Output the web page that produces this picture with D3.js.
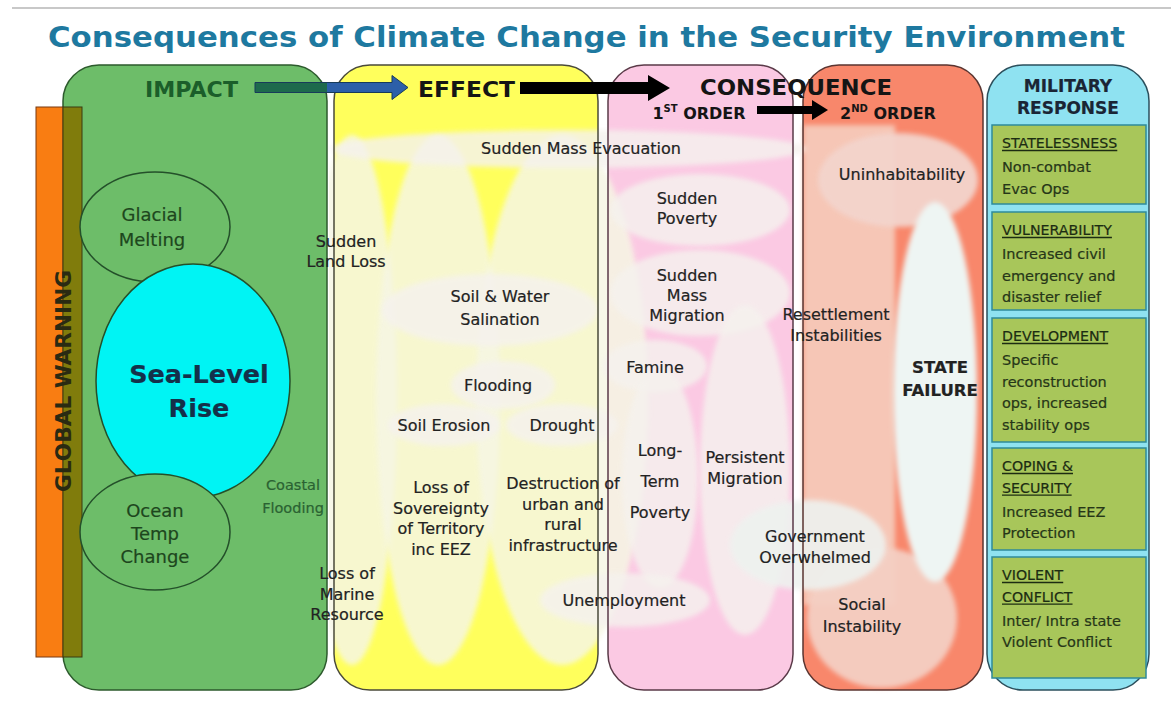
<!DOCTYPE html>
<html>
<head>
<meta charset="utf-8">
<script src="https://cdn.jsdelivr.net/npm/d3@7"></script>
<style>
  body { margin: 0; background: #fff; }
  svg { display: block; font-family: "DejaVu Sans", "Noto Sans", sans-serif; }
  .lbl { paint-order: stroke; stroke-width: 0.2px; }
</style>
</head>
<body>
<div id="chart"></div>
<script>
// ---- Data (text content of the diagram) ----
var title = "Consequences of Climate Change in the Security Environment";
var sideLabel = "GLOBAL WARNING";
var stageHeaders = ["IMPACT", "EFFECT", "CONSEQUENCE"];
var orderHeaders = [["1", "ST", " ORDER"], ["2", "ND", " ORDER"]];
var responseHeader = ["MILITARY", "RESPONSE"];
var impactLabels = [["Glacial", "Melting"], ["Sea-Level", "Rise"], ["Ocean", "Temp", "Change"]];
var effectLabels = [
    ["Sudden Mass Evacuation"], ["Sudden", "Land Loss"], ["Soil & Water", "Salination"],
    ["Flooding"], ["Soil  Erosion"], ["Drought"], ["Coastal", "Flooding"],
    ["Loss of", "Sovereignty", "of Territory", "inc EEZ"],
    ["Destruction of", "urban and", "rural", "infrastructure"],
    ["Loss of", "Marine", "Resource"]
];
var firstOrderLabels = [
    ["Sudden", "Poverty"], ["Sudden", "Mass", "Migration"], ["Famine"],
    ["Long-", "Term", "Poverty"], ["Persistent", "Migration"], ["Unemployment"]
];
var secondOrderLabels = [
    ["Uninhabitability"], ["Resettlement", "Instabilities"], ["Government", "Overwhelmed"],
    ["STATE", "FAILURE"], ["Social", "Instability"]
];
var responseHeads = [["STATELESSNESS"], ["VULNERABILITY"], ["DEVELOPMENT"], ["COPING &", "SECURITY"], ["VIOLENT", "CONFLICT"]];
var responseBodies = [
    ["Non-combat", "Evac Ops"],
    ["Increased civil", "emergency and", "disaster relief"],
    ["Specific", "reconstruction", "ops, increased", "stability ops"],
    ["Increased EEZ", "Protection"],
    ["Inter/ Intra state", "Violent Conflict"]
];

// ---- Layout (geometry, kept apart from the data) ----
var width = 1171, height = 704;
var panelTop = 65, panelBottom = 690;
var panels = [
    { x0: 63, x1: 327, fill: "#6dbd69", stroke: "#2c5a2c" },
    { x0: 334, x1: 598, fill: "#ffff5c", stroke: "#4a4a3a" },
    { x0: 608, x1: 793, fill: "#fbc9e3", stroke: "#5a3a48" },
    { x0: 803, x1: 983, fill: "#f8876b", stroke: "#5a3430" },
    { x0: 987, x1: 1149, fill: "#8fe2f1", stroke: "#2b4f5c" }
];
var effectBlobs = [
    { cx: 352, cy: 400, rx: 45, ry: 265 },
    { cx: 438, cy: 400, rx: 62, ry: 265 },
    { cx: 562, cy: 400, rx: 86, ry: 265 }
];
var paleBlobs = [
    { cx: 568, cy: 149, rx: 238, ry: 19 },   // evacuation band
    { cx: 490, cy: 310, rx: 108, ry: 36 },   // salination
    { cx: 503, cy: 385, rx: 52, ry: 24 },    // flooding
    { cx: 444, cy: 425, rx: 56, ry: 21 },    // soil erosion
    { cx: 562, cy: 425, rx: 56, ry: 21 },    // drought
    { cx: 700, cy: 210, rx: 90, ry: 36 },    // sudden poverty
    { cx: 700, cy: 293, rx: 90, ry: 43 },    // mass migration
    { cx: 655, cy: 366, rx: 52, ry: 26 },    // famine
    { cx: 660, cy: 478, rx: 38, ry: 110 },   // long-term poverty
    { cx: 745, cy: 470, rx: 45, ry: 165 },   // persistent migration
    { cx: 625, cy: 600, rx: 85, ry: 27 }     // unemployment
];
var impactShapes = [
    { cx: 155, cy: 227, rx: 75, ry: 55, fill: "#6dbd69" },
    { cx: 193, cy: 381, rx: 97, ry: 117, fill: "#00f4f4" },
    { cx: 155, cy: 532, rx: 75, ry: 58, fill: "#6dbd69" }
];
var impactPos = [
    { x: 152, y: 221, step: 25, size: 18, color: "#1d461d" },
    { x: 199, y: 383, step: 34, size: 25.5, weight: "bold", color: "#14304a" },
    { x: 155, y: 517, step: 23, size: 18, color: "#1d461d" }
];
var effectPos = [
    { x: 581, y: 154 }, { x: 346, y: 247, step: 20 }, { x: 500, y: 302, step: 23 },
    { x: 498, y: 391 }, { x: 444, y: 431 }, { x: 562, y: 431 },
    { x: 293, y: 490, step: 23, size: 14.5, color: "#2a6232" },
    { x: 441, y: 493, step: 20.5 }, { x: 563, y: 489, step: 20.5 }, { x: 347, y: 579, step: 20.5 }
];
var firstPos = [
    { x: 687, y: 204, step: 20 }, { x: 687, y: 281, step: 20 }, { x: 655, y: 373 },
    { x: 660, y: 456, step: 31 }, { x: 745, y: 463, step: 21 }, { x: 624, y: 606 }
];
var secondPos = [
    { x: 902, y: 180 }, { x: 836, y: 320, step: 21 }, { x: 815, y: 542, step: 21 },
    { x: 940, y: 373, step: 23, size: 16.5, weight: "bold" }, { x: 862, y: 610, step: 22 }
];
var responseBoxes = [[125, 204], [212, 310], [318, 442], [448, 550], [557, 678]];

// Define svg canvas
var svg = d3.select("#chart").append("svg")
    .attr("width", width)
    .attr("height", height);

var defs = svg.append("defs");
defs.append("filter").attr("id", "soft")
    .attr("x", "-20%").attr("y", "-20%").attr("width", "140%").attr("height", "140%")
    .append("feGaussianBlur").attr("stdDeviation", 2.5);
defs.append("clipPath").attr("id", "effectClip")
    .append("rect").attr("x", 329).attr("y", 60).attr("width", 380).attr("height", 640);

var grad = defs.append("linearGradient").attr("id", "arrowGrad")
    .attr("gradientUnits", "userSpaceOnUse")
    .attr("x1", 255).attr("x2", 408).attr("y1", 0).attr("y2", 0);
[[0, "#1d6a4c"], [0.47, "#1d6a4c"], [0.47, "#2c5fa8"], [1, "#2c5fa8"]].forEach(function (s) {
    grad.append("stop").attr("offset", s[0]).attr("stop-color", s[1]);
});

// Helper: multi-line label
function addLines(g, lines, p, defaults) {
    var step = p.step || 20;
    var col = p.color || defaults.color;
    var t = g.append("text")
        .attr("class", "lbl")
        .attr("text-anchor", p.anchor || "middle")
        .attr("font-size", p.size || defaults.size)
        .attr("font-weight", p.weight || "normal")
        .attr("fill", col).attr("stroke", col);
    lines.forEach(function (l, i) {
        t.append("tspan").attr("x", p.x).attr("y", p.y + i * step).text(l);
    });
    return t;
}

// Top rule and title
svg.append("line")
    .attr("x1", 12).attr("x2", width).attr("y1", 8).attr("y2", 8)
    .attr("stroke", "#c8c8c8").attr("stroke-width", 2);

svg.append("text")
    .attr("x", 48).attr("y", 47)
    .attr("font-size", 29).attr("font-weight", "bold")
    .attr("fill", "#1e79a0")
    .attr("textLength", 1077).attr("lengthAdjust", "spacingAndGlyphs")
    .text(title);

// Panel fills
svg.append("g").selectAll("rect")
    .data(panels).enter().append("rect")
    .attr("x", function (d) { return d.x0; })
    .attr("y", panelTop)
    .attr("width", function (d) { return d.x1 - d.x0; })
    .attr("height", panelBottom - panelTop)
    .attr("rx", 36)
    .attr("fill", function (d) { return d.fill; });

// Pale blobs in the effect column (leave yellow wedges)
svg.append("g").attr("clip-path", "url(#effectClip)")
    .selectAll("ellipse").data(effectBlobs).enter().append("ellipse")
    .attr("cx", function (d) { return d.cx; })
    .attr("cy", function (d) { return d.cy; })
    .attr("rx", function (d) { return d.rx; })
    .attr("ry", function (d) { return d.ry; })
    .attr("fill", "#f6f6e4").attr("opacity", 0.85)
    .attr("filter", "url(#soft)");

// Second order background shapes
var so = svg.append("g");
so.append("rect")
    .attr("x", 803).attr("y", 125).attr("width", 92).attr("height", 480)
    .attr("fill", "#f6c6b6").attr("filter", "url(#soft)");
so.append("ellipse").attr("cx", 898).attr("cy", 180).attr("rx", 80).attr("ry", 47)
    .attr("fill", "#f3d4cc").attr("opacity", 0.95).attr("filter", "url(#soft)");
so.append("ellipse").attr("cx", 882).attr("cy", 618).attr("rx", 75).attr("ry", 70)
    .attr("fill", "#f4cfc3").attr("opacity", 0.95).attr("filter", "url(#soft)");
so.append("ellipse").attr("cx", 935).attr("cy", 392).attr("rx", 42).attr("ry", 190)
    .attr("fill", "#eef5f3").attr("filter", "url(#soft)");

// Pale blobs for effects and first order consequences
svg.append("g").selectAll("ellipse")
    .data(paleBlobs).enter().append("ellipse")
    .attr("cx", function (d) { return d.cx; })
    .attr("cy", function (d) { return d.cy; })
    .attr("rx", function (d) { return d.rx; })
    .attr("ry", function (d) { return d.ry; })
    .attr("fill", "#f5f2ee").attr("opacity", 0.82)
    .attr("filter", "url(#soft)");

svg.append("ellipse").attr("cx", 808).attr("cy", 545).attr("rx", 78).attr("ry", 45)
    .attr("fill", "#eef2ef").attr("opacity", 0.9).attr("filter", "url(#soft)");

// Panel outlines
svg.append("g").selectAll("rect")
    .data(panels).enter().append("rect")
    .attr("x", function (d) { return d.x0; })
    .attr("y", panelTop)
    .attr("width", function (d) { return d.x1 - d.x0; })
    .attr("height", panelBottom - panelTop)
    .attr("rx", 36)
    .attr("fill", "none")
    .attr("stroke", function (d) { return d.stroke; })
    .attr("stroke-width", 1.5);

// Global warming bars
svg.append("rect").attr("x", 36).attr("y", 107).attr("width", 27).attr("height", 550)
    .attr("fill", "#f97d12").attr("stroke", "#7a3a10").attr("stroke-width", 1);
svg.append("rect").attr("x", 63).attr("y", 107).attr("width", 19).attr("height", 550)
    .attr("fill", "#807c0c").attr("stroke", "#3a3a10").attr("stroke-width", 1);
svg.append("text")
    .attr("transform", "translate(71,381) rotate(-90)")
    .attr("text-anchor", "middle")
    .attr("font-size", 22).attr("font-weight", "bold")
    .attr("fill", "#2a2a12")
    .attr("textLength", 222).attr("lengthAdjust", "spacingAndGlyphs")
    .text(sideLabel);

// Impact shapes
svg.append("g").selectAll("ellipse")
    .data(impactShapes).enter().append("ellipse")
    .attr("cx", function (d) { return d.cx; })
    .attr("cy", function (d) { return d.cy; })
    .attr("rx", function (d) { return d.rx; })
    .attr("ry", function (d) { return d.ry; })
    .attr("fill", function (d) { return d.fill; })
    .attr("stroke", "#24502a").attr("stroke-width", 1.5);

// Arrows
function arrowPath(x0, x1, y, shaft, head, headLen) {
    var hx = x1 - headLen;
    return d3.line()([[x0, y - shaft / 2], [hx, y - shaft / 2], [hx, y - head / 2], [x1, y],
        [hx, y + head / 2], [hx, y + shaft / 2], [x0, y + shaft / 2]]) + "Z";
}
svg.append("path").attr("d", arrowPath(255, 408, 87.5, 10, 24, 16))
    .attr("fill", "url(#arrowGrad)").attr("stroke", "#173b5a").attr("stroke-width", 1);
svg.append("path").attr("d", arrowPath(520, 670, 88, 12, 26, 22)).attr("fill", "#000");
svg.append("path").attr("d", arrowPath(757, 828, 110, 8, 20, 16)).attr("fill", "#000");

// Stage headers
var headerPos = [{ x: 145, w: 93, c: "#1b5e2a", s: 22 }, { x: 418, w: 97, c: "#151515", s: 22 }, { x: 700, w: 192, c: "#151515", s: 21 }];
stageHeaders.forEach(function (h, i) {
    svg.append("text")
        .attr("x", headerPos[i].x).attr("y", i === 2 ? 95 : 97)
        .attr("font-size", headerPos[i].s).attr("font-weight", "bold")
        .attr("fill", headerPos[i].c)
        .attr("textLength", headerPos[i].w).attr("lengthAdjust", "spacingAndGlyphs")
        .text(h);
});
var orderX = [699, 888];
orderHeaders.forEach(function (h, i) {
    var t = svg.append("text")
        .attr("x", orderX[i]).attr("y", 119)
        .attr("text-anchor", "middle")
        .attr("font-size", 16).attr("font-weight", "bold").attr("fill", "#151515");
    t.append("tspan").text(h[0]);
    t.append("tspan").attr("font-size", 10).attr("dy", -7).text(h[1]);
    t.append("tspan").attr("dy", 7).text(h[2]);
});
addLines(svg, responseHeader, { x: 1068, y: 92, step: 22, size: 17, weight: "bold" }, { color: "#1a2535" });

// Labels
var labels = svg.append("g");
impactLabels.forEach(function (l, i) { addLines(labels, l, impactPos[i], { size: 18, color: "#1d461d" }); });
effectLabels.forEach(function (l, i) { addLines(labels, l, effectPos[i], { size: 16, color: "#222" }); });
firstOrderLabels.forEach(function (l, i) { addLines(labels, l, firstPos[i], { size: 16, color: "#222" }); });
secondOrderLabels.forEach(function (l, i) { addLines(labels, l, secondPos[i], { size: 16, color: "#222" }); });

// Military response boxes
var lineStep = 21.7;
var boxes = svg.append("g").selectAll("g")
    .data(responseBoxes).enter().append("g");

boxes.append("rect")
    .attr("x", 992)
    .attr("y", function (d) { return d[0]; })
    .attr("width", 154)
    .attr("height", function (d) { return d[1] - d[0]; })
    .attr("fill", "#a8c65a")
    .attr("stroke", "#2f8a9a").attr("stroke-width", 1.5);

boxes.each(function (d, i) {
    var g = d3.select(this);
    var y = d[0] + 23;
    responseHeads[i].forEach(function (h, k) {
        var t = g.append("text")
            .attr("class", "lbl")
            .attr("x", 1002).attr("y", y + k * lineStep)
            .attr("font-size", 14.2).attr("fill", "#1c2c12").attr("stroke", "#1c2c12")
            .text(h);
        var w = t.node().getComputedTextLength();
        g.append("line")
            .attr("x1", 1002).attr("x2", 1002 + w)
            .attr("y1", y + k * lineStep + 2.5).attr("y2", y + k * lineStep + 2.5)
            .attr("stroke", "#1c2c12").attr("stroke-width", 1.3);
    });
    var yb = y + (responseHeads[i].length - 1) * lineStep + 24;
    responseBodies[i].forEach(function (b, k) {
        g.append("text")
            .attr("class", "lbl")
            .attr("x", 1002).attr("y", yb + k * lineStep)
            .attr("font-size", 14.5).attr("fill", "#263618").attr("stroke", "#263618")
            .text(b);
    });
});
</script>
</body>
</html>
